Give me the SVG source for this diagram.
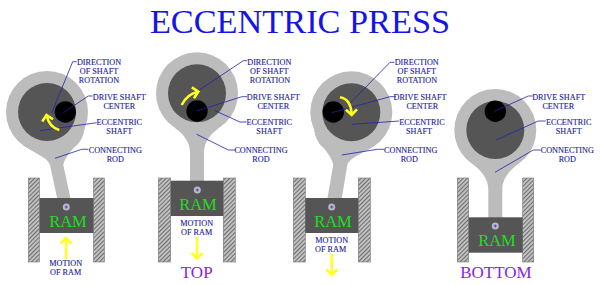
<svg xmlns="http://www.w3.org/2000/svg" width="600" height="285" viewBox="0 0 600 285">
<style>
.rod{fill:#bcbcbc}
.disc{fill:#555}
.shaft{fill:#000}
.ram{fill:#555}
.wall{fill:url(#hatch);stroke:#777;stroke-width:.6}
.pin{fill:#b8b8c8}
.pinmark{stroke:#2a2ab0;stroke-width:.7;fill:none}
.ramtext{font:16.5px "Liberation Serif",serif;fill:#22dd22;text-anchor:middle}
.lbl{font:8.2px "Liberation Serif",serif;fill:#1a1a9c;text-anchor:middle;stroke:#1a1a9c;stroke-width:.12}
.state{font:17px "Liberation Serif",serif;fill:#8a22e6;text-anchor:middle}
.lead{stroke:#2222aa;stroke-width:.8;fill:none}
.move{stroke:#ffff22;stroke-width:2.6;fill:none;marker-end:url(#head)}
</style>
<defs>
<pattern id="hatch" width="3" height="3" patternUnits="userSpaceOnUse" patternTransform="rotate(45)">
<rect width="3" height="3" fill="#c4c4c4"/><rect width="1.1" height="3" fill="#6e6e6e"/>
</pattern>
<marker id="head" markerUnits="userSpaceOnUse" markerWidth="14" markerHeight="14" refX="7" refY="7" orient="auto" overflow="visible">
<path d="M1.500 1.500 L7 7 L1.500 12.500" fill="none" stroke="#ffff22" stroke-width="2.6"/>
</marker>
</defs>
<rect width="600" height="285" fill="#fff"/>
<text id="title" x="300" y="33" font-family="'Liberation Serif',serif" font-size="34.300" fill="#1414e6" text-anchor="middle">ECCENTRIC PRESS</text>

<g id="press-rising">
<rect class="wall" x="28.300" y="178" width="11.200" height="84"/><rect class="wall" x="93.500" y="178" width="11" height="84"/>
<path class="rod" d="M57.300 199 L50 165 C48.500 158 34 153 23 145 L85 127 Q83 139 78 144 C72 149 65 157 63.300 165 L70.700 199Z"/>
<circle class="rod" cx="47" cy="112" r="41"/><circle class="disc" cx="47" cy="112" r="29"/><circle class="shaft" cx="65.300" cy="112" r="10.700"/>
<rect class="ram" x="39.500" y="198" width="54" height="35"/>
<circle class="pin" cx="66.300" cy="207" r="3.500"/><path class="pinmark" d="M64.700 207h3.200M66.300 205.400v3.200"/>
<text class="ramtext" x="68" y="227">RAM</text>
</g>
<g id="press-top">
<rect class="wall" x="158.300" y="178" width="12.400" height="84"/><rect class="wall" x="223.300" y="178" width="12" height="84"/>
<path class="rod" d="M190 182 V152 C190 143 184 134 175 128 H219 C210 134 204 143 204 152 V182Z"/>
<circle class="rod" cx="197" cy="93.300" r="41"/><circle class="disc" cx="197" cy="93.300" r="29"/><circle class="shaft" cx="197" cy="111" r="10.700"/>
<rect class="ram" x="170.700" y="180.700" width="52.600" height="35.300"/>
<circle class="pin" cx="197.300" cy="190" r="3.500"/><path class="pinmark" d="M195.700 190h3.200M197.300 188.400v3.200"/>
<text class="ramtext" x="198" y="209.500">RAM</text>
<text class="state" x="196.700" y="278">TOP</text>
</g>
<g id="press-falling">
<rect class="wall" x="293.300" y="178" width="12" height="84"/><rect class="wall" x="358.300" y="178" width="12" height="84"/>
<path class="rod" d="M327.300 199 L333.300 165 C331.500 157 326 150 320.500 145 Q316 140 314 130 L375.300 145.300 C364 153 349 158 347.300 165 L341.700 199Z"/>
<circle class="rod" cx="351.300" cy="112.300" r="41"/><circle class="disc" cx="351.300" cy="112.300" r="29"/><circle class="shaft" cx="333.300" cy="112" r="10.700"/>
<rect class="ram" x="305.300" y="198" width="53" height="35"/>
<circle class="pin" cx="331.700" cy="207" r="3.500"/><path class="pinmark" d="M330.100 207h3.200M331.700 205.400v3.200"/>
<text class="ramtext" x="333" y="227">RAM</text>
</g>
<g id="press-bottom">
<rect class="wall" x="457.300" y="178" width="11.400" height="84"/><rect class="wall" x="522.700" y="178" width="11" height="84"/>
<path class="rod" d="M488.300 218 V189 C488.300 180 482.300 171 473.300 164.700 H517.300 C508.300 171 502.300 180 502.300 189 V218Z"/>
<circle class="rod" cx="495.300" cy="130" r="41"/><circle class="disc" cx="495.300" cy="130" r="29"/><circle class="shaft" cx="495.300" cy="111.300" r="10.700"/>
<rect class="ram" x="468.700" y="217.300" width="54" height="35.400"/>
<circle class="pin" cx="495.300" cy="226" r="3.500"/><path class="pinmark" d="M493.700 226h3.200M495.300 224.400v3.200"/>
<text class="ramtext" x="497" y="246">RAM</text>
<text class="state" x="496" y="278">BOTTOM</text>
</g>

<g id="connectors">
<path class="lead" d="M76.700 61.700H72.700L51.700 113M92.700 96H88.300L63.300 112.700M96.700 122.700L40 130.700M88.300 149.300H81.700L55 158.300"/>
<path class="lead" d="M247.300 60.700H243.300L196.700 91.700M247.300 96.700H241.700L196.700 111M246.700 122H240L215 110.700M235 150H228.300L196.700 134.300"/>
<path class="lead" d="M394.300 62.300H390L350 103.300M396 96.700H390L331.700 112.700M399.300 121L351.700 124.300M384.300 149.300H377.300L341.700 155"/>
<path class="lead" d="M532.700 96H528.300L494.300 111.300M545.700 121H538.300L496 140M540.700 150H533.300L495 172.300"/>
<path class="move" d="M59.300 130Q49 127 46.500 115"/>
<path class="move" d="M66 259.300V238"/>
<path class="move" d="M181.700 105Q187 94 198.300 91.700"/>
<path class="move" d="M197 236.700V258.500"/>
<path class="move" d="M340 97.300Q351 99 351.700 115"/>
<path class="move" d="M331.700 254V275"/>
</g>

<g id="labels">
<text class="lbl" x="99" y="65">DIRECTION</text><text class="lbl" x="99" y="74">OF SHAFT</text><text class="lbl" x="99" y="83">ROTATION</text>
<text class="lbl" x="119.300" y="99.700">DRIVE SHAFT</text><text class="lbl" x="119.300" y="108.700">CENTER</text>
<text class="lbl" x="119.300" y="125">ECCENTRIC</text><text class="lbl" x="119.300" y="134">SHAFT</text>
<text class="lbl" x="115.300" y="153">CONNECTING</text><text class="lbl" x="115.300" y="162">ROD</text>
<text class="lbl" x="65.700" y="266">MOTION</text><text class="lbl" x="65.700" y="275">OF RAM</text>

<text class="lbl" x="269.300" y="65">DIRECTION</text><text class="lbl" x="269.300" y="74">OF SHAFT</text><text class="lbl" x="270" y="83">ROTATION</text>
<text class="lbl" x="273.300" y="99.700">DRIVE SHAFT</text><text class="lbl" x="273.300" y="108.700">CENTER</text>
<text class="lbl" x="269.300" y="125">ECCENTRIC</text><text class="lbl" x="269.300" y="134">SHAFT</text>
<text class="lbl" x="261" y="153">CONNECTING</text><text class="lbl" x="261" y="162">ROD</text>
<text class="lbl" x="196.700" y="226">MOTION</text><text class="lbl" x="196.700" y="235">OF RAM</text>

<text class="lbl" x="416.700" y="65">DIRECTION</text><text class="lbl" x="416.700" y="74">OF SHAFT</text><text class="lbl" x="417" y="83">ROTATION</text>
<text class="lbl" x="420" y="99.700">DRIVE SHAFT</text><text class="lbl" x="422.300" y="108.700">CENTER</text>
<text class="lbl" x="422" y="125">ECCENTRIC</text><text class="lbl" x="419" y="134">SHAFT</text>
<text class="lbl" x="410.700" y="153">CONNECTING</text><text class="lbl" x="409.300" y="162">ROD</text>
<text class="lbl" x="331.700" y="243.300">MOTION</text><text class="lbl" x="330.700" y="252.300">OF RAM</text>

<text class="lbl" x="558.700" y="99.700">DRIVE SHAFT</text><text class="lbl" x="558.300" y="108.700">CENTER</text>
<text class="lbl" x="568.700" y="125">ECCENTRIC</text><text class="lbl" x="568.700" y="134">SHAFT</text>
<text class="lbl" x="567.300" y="153">CONNECTING</text><text class="lbl" x="567.300" y="162">ROD</text>
</g>
</svg>
